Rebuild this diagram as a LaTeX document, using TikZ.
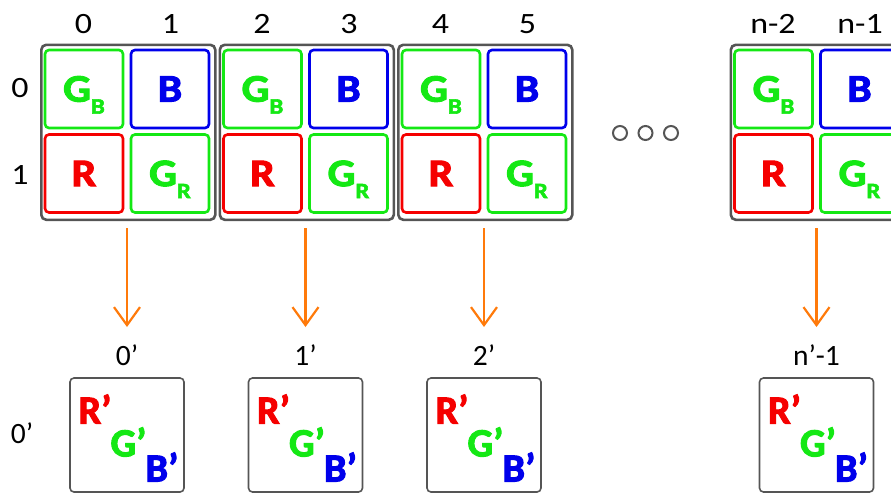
\documentclass[tikz,border=0pt]{standalone}
\usepackage{fontspec}
\setmainfont{Carlito}
\newfontfamily\widefont{Carlito}[FakeStretch=1.15]
\newfontfamily\wideheavy{Carlito}[FakeStretch=1.12,BoldFeatures={FakeBold=2.5}]
\newfontfamily\heavyfont{Carlito}[BoldFeatures={FakeBold=2.5}]
\usetikzlibrary{arrows.meta}
\definecolor{cgreen}{RGB}{20,232,20}
\definecolor{cblue}{RGB}{0,0,235}
\definecolor{cred}{RGB}{245,0,0}
\definecolor{cgray}{RGB}{85,85,85}
\definecolor{corange}{RGB}{255,122,10}
\tikzset{
  grp/.style={draw=cgray,line width=2.6pt,rounded corners=5pt,minimum width=174pt,minimum height=175pt,inner sep=0pt,anchor=north west},
  cell/.style={line width=2.6pt,rounded corners=4pt,minimum width=78pt,minimum height=78pt,inner sep=0pt,font=\wideheavy\fontsize{39}{42}\selectfont\bfseries},
  gb/.style={cell,draw=cgreen,text=cgreen},
  bb/.style={cell,draw=cblue,text=cblue},
  rb/.style={cell,draw=cred,text=cred},
  lab/.style={inner sep=0pt,font=\widefont\fontsize{29.5}{32}\selectfont,text=black},
  blab/.style={inner sep=0pt,font=\fontsize{29.5}{32}\selectfont,text=black},
  outbox/.style={draw=cgray,line width=1.6pt,rounded corners=4pt,minimum width=114pt,minimum height=114pt,inner sep=0pt},
  big/.style={inner sep=0pt,font=\heavyfont\fontsize{40}{42}\selectfont\bfseries},
  arr/.style={draw=corange,line width=2.2pt,-{Straight Barb[length=18pt,width=26pt,line width=2.2pt]}},
  dot/.style={draw=cgray,line width=2pt,circle,minimum size=14pt,inner sep=0pt}
}
\newcommand{\subsc}[1]{\smash{\raisebox{-12pt}{\fontsize{22}{24}\selectfont #1}}}
\begin{document}
\begin{tikzpicture}[x=1pt,y=-1pt]
\useasboundingbox (0,0) rectangle (891,493);
% row labels
\node[lab] (r0) at (20,88) {0};
\node[lab] (r1) at (20,175) {1};
\node[blab] (r0p) at (22,433) {0’};
% groups
\foreach \i/\gx/\ca/\cb/\ol in {1/40/0/1/0’,2/218.5/2/3/1’,3/397/4/5/2’,4/729.5/n-2/n-1/n’-1}{
  \node[grp] (g\i) at (\gx,43.5) {};
  \node[gb] (gb\i) at (\gx+44,89) {G\subsc{B}};
  \node[bb] (b\i) at (\gx+130,89) {B};
  \node[rb] (r\i) at (\gx+44,173.5) {R};
  \node[gb] (gr\i) at (\gx+130,173.5) {G\subsc{R}};
  \node[lab] (ca\i) at (\gx+43.5,24) {\ca};
  \node[lab] (cb\i) at (\gx+130.5,24) {\cb};
  \coordinate (as\i) at (\gx+87,228);
  \coordinate (ae\i) at (\gx+87,327);
  \draw[arr] (as\i) -- (ae\i);
  \node[blab] (o\i) at (\gx+87,355) {\ol};
  \node[outbox] (ob\i) at (\gx+87,435) {};
  \node[big,text=cred] (rp\i) at (\gx+55,409) {R’};
  \node[big,text=cgreen] (gp\i) at (\gx+88.5,442) {G’};
  \node[big,text=cblue] (bp\i) at (\gx+122,467) {B’};
}
% dots
\node[dot] (d1) at (620,133) {};
\node[dot] (d2) at (645.5,133) {};
\node[dot] (d3) at (671,133) {};
\end{tikzpicture}
\end{document}
